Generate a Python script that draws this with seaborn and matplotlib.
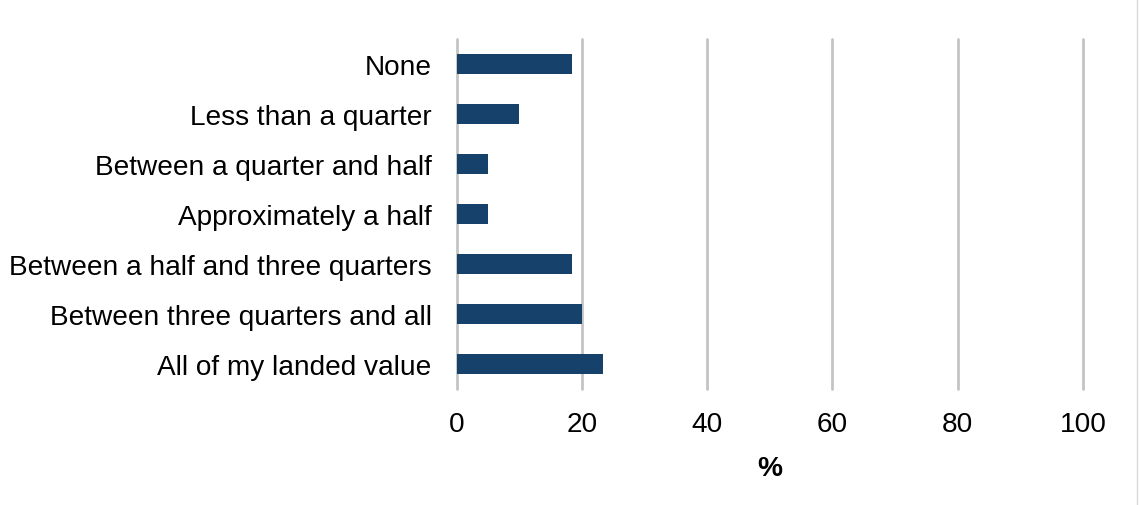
import matplotlib
matplotlib.use("Agg")
import matplotlib.pyplot as plt
import seaborn as sns
import pandas as pd

categories = [
    "None",
    "Less than a quarter",
    "Between a quarter and half",
    "Approximately a half",
    "Between a half and three quarters",
    "Between three quarters and all",
    "All of my landed value",
]
percent = [18.4, 10.0, 5.1, 5.1, 18.4, 20.1, 23.4]
x_ticks = [0, 20, 40, 60, 80, 100]

df = pd.DataFrame({"category": categories, "percent": percent})

sns.set_theme(style="white")
plt.rcParams["font.family"] = ["Liberation Sans", "DejaVu Sans"]

fig = plt.figure(figsize=(11.39, 5.06), dpi=100)
ax = fig.add_axes([0.4008, 0.229, 0.5500, 0.692])

sns.barplot(data=df, x="percent", y="category", orient="h",
            color="#15416b", saturation=1, width=0.4, linewidth=0, ax=ax)

ax.set_xlim(0, 100)
ax.set_ylim(6.5, -0.5)
ax.set_xticks(x_ticks)
ax.set_xticklabels([str(t) for t in x_ticks])
ax.xaxis.grid(True, color="#c4c4c4", linewidth=2)
for gl in ax.get_xgridlines():
    gl.set_clip_on(False)
ax.set_axisbelow(True)
for s in ax.spines.values():
    s.set_visible(False)
ax.tick_params(axis="both", length=0, labelsize=20.2, colors="black")
ax.tick_params(axis="x", pad=16)
ax.tick_params(axis="y", pad=18)
ax.set_ylabel("")
ax.set_xlabel("%", fontsize=20.2, fontweight="bold", labelpad=13, color="black")

# thin frame line on the right edge of the figure
fig.add_artist(plt.Line2D([0.998, 0.998], [0, 1], transform=fig.transFigure,
                          color="#d9d9d9", linewidth=1))

fig.savefig("out.png", dpi=100, facecolor="white")
